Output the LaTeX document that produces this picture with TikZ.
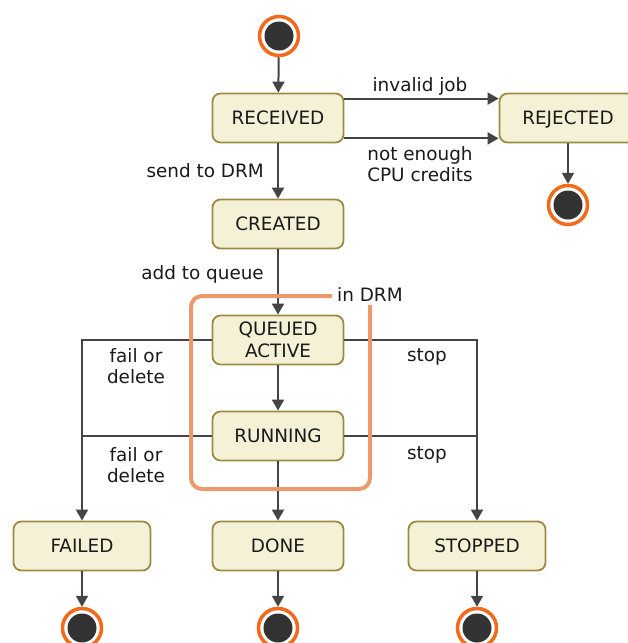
\documentclass[tikz,border=0pt]{standalone}
\usepackage{fontspec}
\setmainfont{DejaVu Sans}
\usetikzlibrary{arrows.meta}
\definecolor{boxfill}{HTML}{F4F1D6}
\definecolor{boxline}{HTML}{9C8B45}
\definecolor{wire}{HTML}{444444}
\definecolor{ring}{HTML}{F26A1B}
\definecolor{region}{HTML}{EA9A6C}
\definecolor{dot}{HTML}{333333}
\definecolor{ink}{HTML}{1A1A1A}
\begin{document}
\begin{tikzpicture}[x=1pt,y=-1pt,
  txt/.style={text=ink, font=\fontsize{18.4}{21.5}\selectfont, align=center, inner sep=0pt},
  state/.style={txt, draw=boxline, fill=boxfill, line width=1.8pt, rounded corners=8pt,
    minimum width=131pt, minimum height=49pt},
  widestate/.style={state, minimum width=137pt},
  pseudo/.style={circle, draw=ring, line width=3.5pt, fill=white, minimum size=39pt, inner sep=0pt,
    path picture={\fill[dot] (path picture bounding box.center) circle (14.5pt);}},
  wireline/.style={draw=wire, line width=2pt},
  flow/.style={wireline, -{Triangle[length=11pt,width=12pt]}},
  regionline/.style={draw=region, line width=4pt, rounded corners=11pt}]
\useasboundingbox (0,0) rectangle (627,643);

% states
\node[pseudo] (start) at (279,36) {};
\node[state] (received) at (278,118) {RECEIVED};
\node[widestate] (rejected) at (568,118) {\smash{REJECTED}\vphantom{D}};
\node[pseudo] (rejend) at (568,205) {};
\node[state] (created) at (278,224) {CREATED};
\node[state] (queued) at (278,340) {QUEUED\\ACTIVE};
\node[state] (running) at (278,436) {RUNNING};
\node[widestate] (failed) at (82,546) {FAILED};
\node[state] (done) at (278,546) {DONE};
\node[widestate] (stopped) at (477,546) {STOPPED};
\node[pseudo] (failend) at (82,628) {};
\node[pseudo] (doneend) at (278,628) {};
\node[pseudo] (stopend) at (477,628) {};

% transition labels
\node[txt] (lblinvalid) at (420,86) {invalid job};
\node[txt] (lblcredits) at (420,164) {not enough\\CPU credits};
\node[txt, anchor=east] (lblsend) at (264,171) {send to DRM};
\node[txt, anchor=east] (lbladd) at (264,274) {add to queue};
\node[txt] (lblfail1) at (136,366) {fail or\\delete};
\node[txt] (lblfail2) at (136,465) {fail or\\delete};
\node[txt] (lblstop1) at (427,357) {stop};
\node[txt] (lblstop2) at (427,455) {stop};
\node[txt, anchor=west] (lbldrm) at (337,295) {in DRM};

% transitions
\draw[flow] (start) -- (received);
\draw[flow] ([yshift=-6pt]received.north east) -- ([yshift=-6pt]received.north east -| rejected.west);
\draw[flow] ([yshift=5pt]received.south east) -- ([yshift=5pt]received.south east -| rejected.west);
\draw[flow] (rejected) -- (rejend);
\draw[flow] (received) -- (created);
\draw[flow] (created) -- (queued);
\draw[flow] (queued) -- (running);
\draw[flow] (running) -- (done);
\draw[flow] (queued.west) -| (failed.north);
\draw[wireline] (running.west) -- (running.west -| failed.north);
\draw[flow] (queued.east) -| (stopped.north);
\draw[wireline] (running.east) -- (running.east -| stopped.north);
\draw[flow] (failed) -- (failend);
\draw[flow] (done) -- (doneend);
\draw[flow] (stopped) -- (stopend);

% region boundary around the DRM states
\draw[regionline] (332,296) -- (191,296) -- (191,489) -- (370,489) -- (370,305);
\end{tikzpicture}
\end{document}
